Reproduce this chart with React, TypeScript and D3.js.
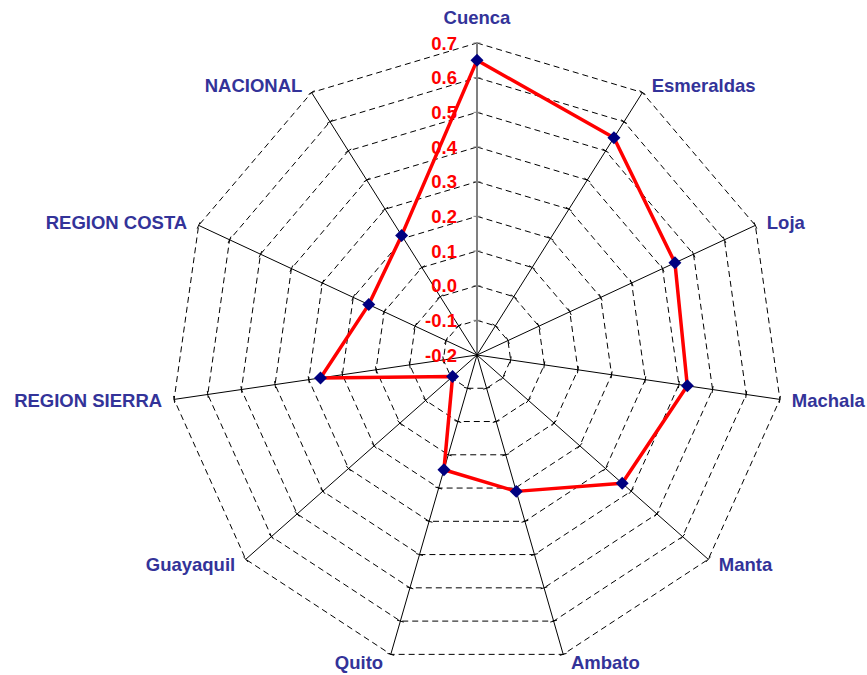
import React from "react";
import * as d3 from "d3";

const categories = [
  "Cuenca",
  "Esmeraldas",
  "Loja",
  "Machala",
  "Manta",
  "Ambato",
  "Quito",
  "Guayaquil",
  "REGION SIERRA",
  "REGION COSTA",
  "NACIONAL",
];
const values = [0.65, 0.545, 0.44, 0.425, 0.365, 0.21, 0.145, -0.105, 0.265, 0.15, 0.21];
const tickValues = [-0.2, -0.1, 0.0, 0.1, 0.2, 0.3, 0.4, 0.5, 0.6, 0.7];

const W = 867;
const H = 675;
const CX = 477;
const CY = 355;
const RX = 306;
const RY = 312;
const FONT = "'Liberation Sans', Arial, sans-serif";
const LABEL_COLOR = "#333399";
const FS = 18.5;

export default function App() {
  const n = categories.length;
  const r = d3.scaleLinear().domain([-0.2, 0.7]).range([0, 1]);
  const angle = (i: number) => (i * 2 * Math.PI) / n;
  const pt = (i: number, v: number): [number, number] => {
    const a = angle(i);
    const f = r(v);
    return [CX + RX * f * Math.sin(a), CY - RY * f * Math.cos(a)];
  };

  const rings = tickValues.slice(1).map((t) => {
    const pts = categories.map((_, i) => pt(i, t));
    return "M" + pts.map((p) => p.join(",")).join("L") + "Z";
  });

  const seriesLine = d3
    .line<number>()
    .x((v, i) => pt(i, v)[0])
    .y((v, i) => pt(i, v)[1])
    .curve(d3.curveLinearClosed)(values) as string;

  const diamond = d3.symbol().type(d3.symbolSquare).size(84)() as string;

  return (
    <svg
      width={W}
      height={H}
      style={{ position: "absolute", left: 0, top: 0, background: "#fff" }}
    >
      <rect x={0} y={0} width={W} height={H} fill="#fff" />
      {/* rings */}
      <g fill="none" stroke="#000" strokeWidth={1} strokeDasharray="6,4">
        {rings.map((d, i) => (
          <path key={i} d={d} />
        ))}
      </g>
      {/* axes */}
      {categories.map((c, i) => {
        const [x2, y2] = pt(i, 0.7);
        return (
          <line
            key={c}
            x1={CX}
            y1={CY}
            x2={x2}
            y2={y2}
            stroke={i === 0 ? "#808080" : "#000"}
            strokeWidth={i === 0 ? 2 : 1}
          />
        );
      })}
      {/* tick marks */}
      {categories.map((c, i) => {
        const a = angle(i);
        const px = Math.cos(a);
        const py = Math.sin(a);
        return (
          <g key={"t" + c}>
            {tickValues.slice(1).map((t) => {
              const [x, y] = pt(i, t);
              return (
                <line
                  key={t}
                  x1={x - px * 3.5}
                  y1={y - py * 3.5}
                  x2={x + px * 3.5}
                  y2={y + py * 3.5}
                  stroke={i === 0 ? "#808080" : "#000"}
                  strokeWidth={1}
                />
              );
            })}
          </g>
        );
      })}
      {/* tick labels */}
      <g fontFamily={FONT} fontWeight="bold" fontSize={FS} fill="#ff0000" textAnchor="end">
        {tickValues.map((t) => {
          const [, y] = pt(0, t);
          return (
            <text key={t} x={CX - 20} y={y + 6.6}>
              {t.toFixed(1)}
            </text>
          );
        })}
      </g>
      {/* category labels */}
      <g fontFamily={FONT} fontWeight="bold" fontSize={FS} fill={LABEL_COLOR}>
        {categories.map((c, i) => {
          const a = angle(i);
          const s = Math.sin(a);
          const co = Math.cos(a);
          const [vx, vy] = pt(i, 0.7);
          if (Math.abs(s) < 0.1) {
            return (
              <text key={c} x={vx} y={vy - 19} textAnchor="middle">
                {c}
              </text>
            );
          }
          const sign = s > 0 ? 1 : -1;
          const x = vx + sign * (6 + 6 * Math.abs(s));
          const y = vy - 8 * co + 6.6;
          return (
            <text key={c} x={x} y={y} textAnchor={s > 0 ? "start" : "end"}>
              {c}
            </text>
          );
        })}
      </g>
      {/* series */}
      <path d={seriesLine} fill="none" stroke="#ff0000" strokeWidth={3.5} strokeLinejoin="round" />
      {values.map((v, i) => {
        const [x, y] = pt(i, v);
        return (
          <path
            key={i}
            d={diamond}
            transform={`translate(${x},${y}) rotate(45)`}
            fill="#000080"
          />
        );
      })}
    </svg>
  );
}
